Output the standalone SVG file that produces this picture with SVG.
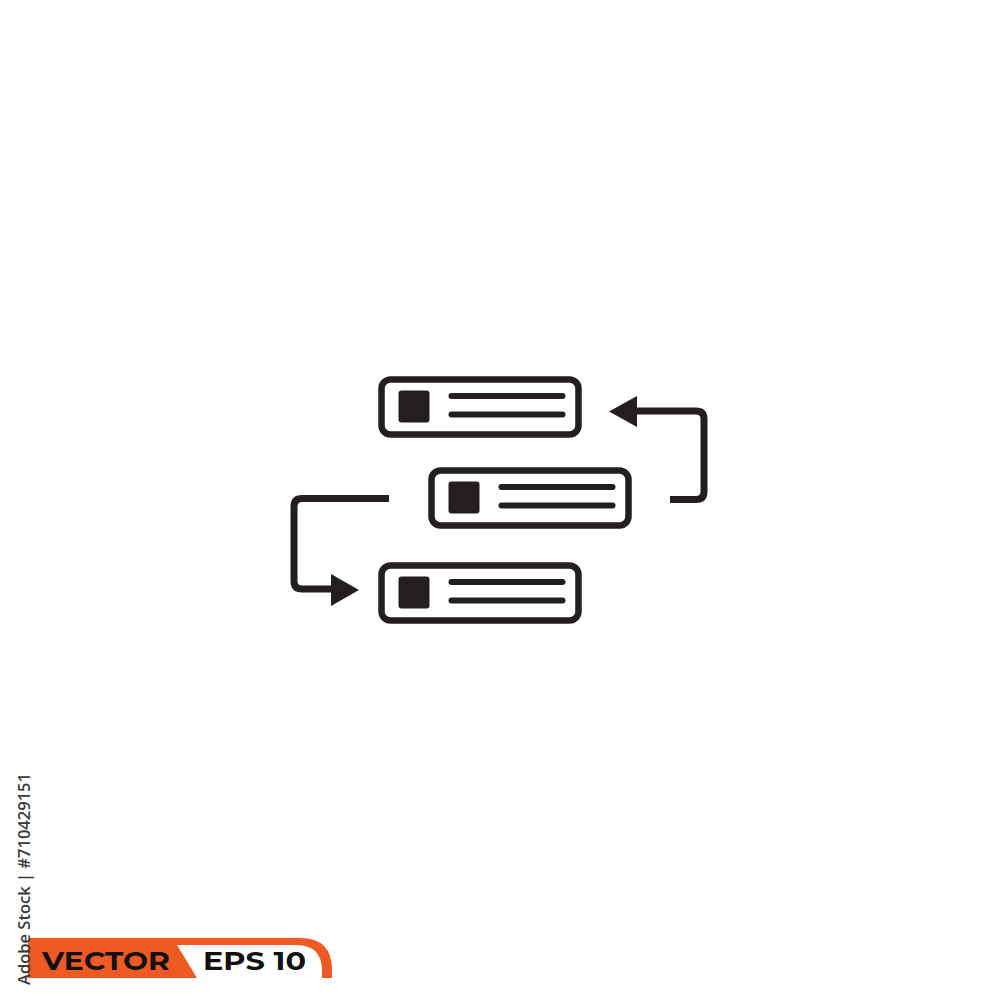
<svg xmlns="http://www.w3.org/2000/svg" width="1000" height="1000" viewBox="0 0 1000 1000">
  <defs>
    <style>
      .frame { fill: #ffffff; stroke: #231f20; stroke-width: 6.5; }
      .icon { fill: #231f20; }
      .txt { stroke: #231f20; stroke-width: 6; stroke-linecap: round; fill: none; }
      .conn { stroke: #231f20; stroke-width: 7; fill: none; stroke-linejoin: round; }
      .head { fill: #231f20; }
      .badge { font-family: "Montserrat", "Open Sans", "Liberation Sans", sans-serif; font-weight: bold; fill: #111111; }
    </style>
    <g id="card">
      <rect class="frame" x="0" y="0" width="197" height="55" rx="9"/>
      <rect class="icon" x="17" y="11" width="31" height="32" rx="3"/>
      <line class="txt" x1="70" y1="16.5" x2="181" y2="16.5"/>
      <line class="txt" x1="70" y1="35" x2="181" y2="35"/>
    </g>
  </defs>
  <rect width="1000" height="1000" fill="#ffffff"/>

  <g id="node-top"><use href="#card" x="381.5" y="379.5"/></g>
  <g id="node-middle"><use href="#card" x="431.5" y="470.5"/></g>
  <g id="node-bottom"><use href="#card" x="381.5" y="565.5"/></g>

  <g id="connectors">
    <path class="conn" d="M670 499.5 H696 Q704 499.5 704 491.5 V419 Q704 411 696 411 H634"/>
    <polygon class="head" points="609,411.5 637,396 637,427"/>
    <path class="conn" d="M389 498.5 H302 Q294 498.5 294 506.5 V581 Q294 589 302 589 H335"/>
    <polygon class="head" points="359,590 331,574 331,606"/>
  </g>

  <g id="badge">
    <path d="M28 938 H300 Q332 938 332 970 V978 H28 Z" fill="#ef5a24"/>
    <path d="M177 945 H296 Q322 945 322 971 V978 H197 Z" fill="#ffffff"/>
    <text class="badge" x="42" y="970" font-size="26" textLength="128" lengthAdjust="spacingAndGlyphs">VECTOR</text>
    <text class="badge" x="203" y="970" font-size="26" textLength="103" lengthAdjust="spacingAndGlyphs">EPS 10</text>
  </g>

  <text transform="translate(30,985) rotate(-90)" x="0" y="0" font-family="Open Sans, Liberation Sans, sans-serif" font-weight="600" font-size="16" fill="#3a3a3a" textLength="212" lengthAdjust="spacingAndGlyphs">Adobe Stock | #710429151</text>
</svg>
